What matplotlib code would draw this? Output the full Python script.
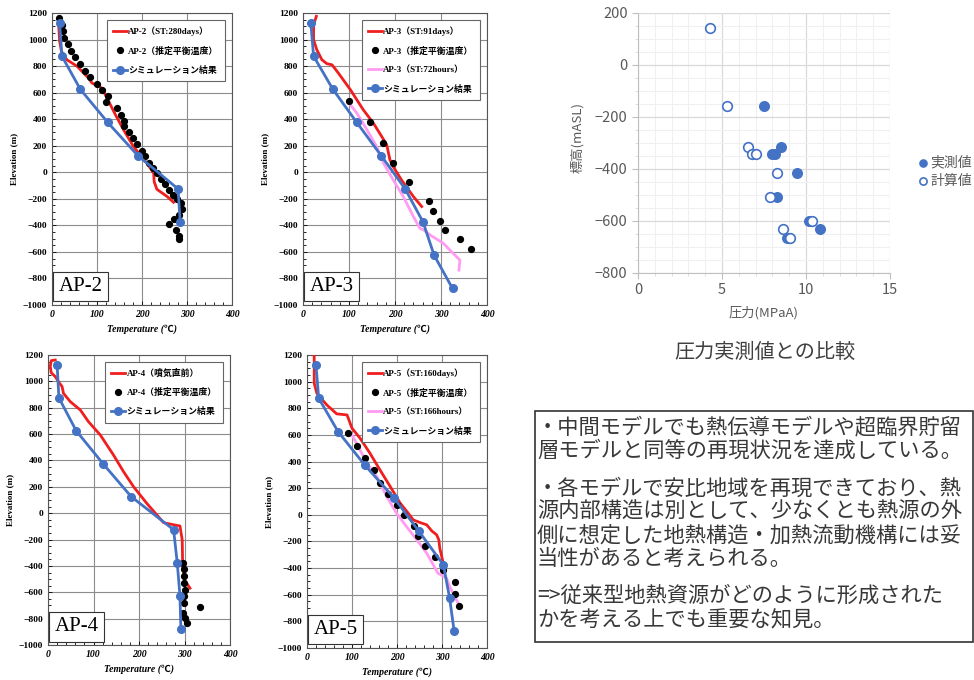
import numpy as np
import matplotlib.pyplot as plt
from matplotlib.ticker import MultipleLocator, AutoMinorLocator
from matplotlib.patches import Rectangle

SERIF = ['Liberation Serif', 'Noto Sans CJK JP']
JP = ['Noto Sans CJK JP', 'DejaVu Sans']

RED = '#F01E1E'
BLUE = '#4472C4'
PINK = '#FF9CF2'

# simulation result elevations (same for every well)
sim_elev = [1125, 875, 625, 375, 125, -125, -375, -625, -875]

# AP-2
ap2_st_t = [15, 17, 21, 33, 56, 81, 89, 111, 126, 141, 159, 181, 211, 226, 227, 233, 256, 270]
ap2_st_z = [1100, 986, 911, 848, 798, 710, 672, 634, 534, 433, 320, 194, 68, -7, -70, -128, -183, -226]
ap2_eq_t = [16, 22, 24, 27, 36, 42, 52, 63, 74, 84, 100, 110, 124, 121, 144, 153, 161, 161, 170,
            180, 189, 199, 207, 215, 224, 233, 243, 251, 260, 268, 278, 286, 289, 283, 272, 261,
            275, 283, 283]
ap2_eq_z = [1162, 1112, 1062, 1011, 966, 916, 866, 815, 765, 715, 664, 622, 576, 526, 483, 433,
            390, 345, 300, 257, 212, 164, 119, 73, 31, -7, -50, -90, -133, -170, -203, -233,
            -276, -321, -354, -392, -434, -479, -502]
ap2_sim_t = [17, 22, 63, 124, 191, 280, 285]

# AP-3
ap3_st_t = [29, 23, 23, 30, 41, 52, 63, 77, 103, 131, 153, 171, 182, 189, 196, 214, 240, 258]
ap3_st_z = [1175, 1112, 999, 923, 848, 818, 810, 747, 622, 471, 370, 270, 207, 94, 43, -57, -183, -258]
ap3_eq_t = [101, 146, 173, 196, 231, 274, 283, 298, 308, 341, 366]
ap3_eq_z = [539, 375, 224, 73, -70, -213, -289, -364, -435, -505, -580]
ap3_72h_t = [103, 117, 139, 160, 175, 196, 218, 240, 254, 262, 276, 305, 326, 341, 339]
ap3_72h_z = [508, 446, 320, 194, 69, -57, -183, -334, -422, -434, -472, -535, -610, -661, -737]
ap3_sim_t = [17, 23, 65, 117, 170, 222, 261, 285, 325]

# AP-4
ap4_st_t = [16, 7, 5, 7, 16, 23, 31, 34, 49, 71, 89, 115, 144, 166, 188, 217, 254, 279, 290,
            295, 296, 300, 312]
ap4_st_z = [1162, 1157, 1112, 1066, 1036, 998, 960, 909, 846, 783, 694, 593, 441, 315, 201, 75,
            -72, -90, -97, -203, -405, -506, -569]
ap4_eq_t = [296, 298, 298, 299, 300, 299, 299, 334, 296, 301, 305]
ap4_eq_z = [-375, -426, -476, -532, -582, -627, -678, -714, -754, -792, -835]
ap4_sim_t = [20, 24, 62, 121, 183, 276, 284, 290, 292]

# AP-5
ap5_st_t = [16, 16, 22, 44, 66, 89, 100, 118, 140, 162, 185, 207, 225, 236, 251, 266, 277, 288,
            293, 295, 299, 301]
ap5_st_z = [1200, 988, 912, 825, 758, 750, 650, 575, 462, 338, 212, 88, 12, -38, -58, -75, -120,
            -150, -188, -250, -308, -338]
ap5_eq_t = [91, 111, 128, 148, 163, 181, 199, 216, 237, 246, 263, 284, 303, 328, 328, 337]
ap5_eq_z = [612, 518, 425, 338, 242, 158, 75, 0, -83, -158, -232, -318, -412, -508, -595, -688]
ap5_166h_t = [100, 114, 133, 155, 177, 199, 221, 244, 266, 291, 310, 317, 332, 339]
ap5_166h_z = [600, 512, 388, 288, 138, 12, -88, -188, -288, -438, -475, -538, -638, -683]
ap5_sim_t = [20, 26, 69, 128, 194, 249, 303, 317, 327]

# pressure comparison
meas_p = [7.49, 8.54, 7.95, 8.15, 9.44, 8.25, 10.15, 10.83, 8.88]
meas_z = [-156, -317, -341, -341, -414, -508, -601, -630, -665]
calc_p = [4.31, 5.27, 6.54, 6.80, 7.05, 8.25, 7.85, 10.37, 8.64, 9.04]
calc_z = [142, -156, -317, -341, -341, -414, -508, -601, -630, -665]

note_lines = [
    "・中間モデルでも熱伝導モデルや超臨界貯留",
    "層モデルと同等の再現状況を達成している。",
    "・各モデルで安比地域を再現できており、熱",
    "源内部構造は別として、少なくとも熱源の外",
    "側に想定した地熱構造・加熱流動機構には妥",
    "当性があると考えられる。",
    "=>従来型地熱資源がどのように形成された",
    "かを考える上でも重要な知見。",
]
note_y = [427, 451, 489, 512, 536, 559, 596, 620]

W, H = 974, 680
fig = plt.figure(figsize=(W / 100, H / 100), dpi=100)


def px_axes(l, t, r, b):
    return fig.add_axes([l / W, 1 - b / H, (r - l) / W, (b - t) / H])


def well_panel(box, name, st, st_label, eq, sim_t, extra=None):
    ax = px_axes(*box)
    ax.plot(st[0], st[1], color=RED, lw=2, label=st_label, zorder=3)
    ax.plot(eq[0], eq[1], 'o', color='black', ms=4.2, label=name + '（推定平衡温度）', zorder=4)
    if extra is not None:
        ax.plot(extra[0], extra[1], color=PINK, lw=2, label=extra[2], zorder=2)
    ax.plot(sim_t, sim_elev[:len(sim_t)], '-o', color=BLUE, lw=2, ms=5.5,
            label='シミュレーション結果', zorder=5)

    ax.set_xlim(0, 400)
    ax.set_ylim(-1000, 1200)
    ax.xaxis.set_major_locator(MultipleLocator(100))
    ax.yaxis.set_major_locator(MultipleLocator(200))
    ax.xaxis.set_minor_locator(AutoMinorLocator(5))
    ax.yaxis.set_minor_locator(AutoMinorLocator(4))
    ax.tick_params(which='both', direction='in', length=3, width=0.6)
    ax.tick_params(which='minor', length=2)
    ax.grid(True, which='major', color='#8c8c8c', lw=0.8)
    for s in ax.spines.values():
        s.set_color('#555555')
        s.set_linewidth(0.8)
    for lab in ax.get_yticklabels():
        lab.set_fontfamily(SERIF)
        lab.set_fontweight('bold')
        lab.set_fontsize(6.8)
    for lab in ax.get_xticklabels():
        lab.set_fontfamily(SERIF)
        lab.set_fontweight('bold')
        lab.set_fontstyle('italic')
        lab.set_fontsize(7)
    ax.set_ylabel('Elevation (m)', family=SERIF, fontweight='bold', fontsize=6.5, labelpad=3)
    ax.set_xlabel('Temperature (℃)', family=SERIF, fontweight='bold', fontstyle='italic',
                  fontsize=7, labelpad=4)
    leg = ax.legend(loc='upper right', bbox_to_anchor=(0.985, 0.99), fancybox=False,
                    prop={'family': SERIF, 'size': 6.4, 'weight': 'bold'}, handlelength=1.6,
                    borderpad=0.7, labelspacing=1.15, handletextpad=0.15, framealpha=1)
    leg.get_frame().set_edgecolor('#666666')
    leg.get_frame().set_linewidth(0.8)
    ax.text(0.035, 0.03, name, transform=ax.transAxes, family=SERIF, fontsize=15,
            ha='left', va='bottom', zorder=6,
            bbox=dict(boxstyle='square,pad=0.25', fc='white', ec='#333333', lw=0.8))
    return ax


well_panel((52, 13, 232, 305), 'AP-2', (ap2_st_t, ap2_st_z), 'AP-2（ST:280days）',
           (ap2_eq_t, ap2_eq_z), ap2_sim_t)
well_panel((303, 13, 487, 305), 'AP-3', (ap3_st_t, ap3_st_z), 'AP-3（ST:91days）',
           (ap3_eq_t, ap3_eq_z), ap3_sim_t, (ap3_72h_t, ap3_72h_z, 'AP-3（ST:72hours）'))
well_panel((48, 355, 230, 645), 'AP-4', (ap4_st_t, ap4_st_z), 'AP-4（噴気直前）',
           (ap4_eq_t, ap4_eq_z), ap4_sim_t)
well_panel((307, 355, 487, 648), 'AP-5', (ap5_st_t, ap5_st_z), 'AP-5（ST:160days）',
           (ap5_eq_t, ap5_eq_z), ap5_sim_t, (ap5_166h_t, ap5_166h_z, 'AP-5（ST:166hours）'))

# pressure chart
axp = px_axes(638, 13, 890, 273)
axp.scatter(meas_p, meas_z, s=48, color=BLUE, edgecolor=BLUE, label='実測値', zorder=3)
axp.scatter(calc_p, calc_z, s=48, facecolor='white', edgecolor=BLUE, linewidth=1.2,
            label='計算値', zorder=4)
axp.set_xlim(0, 15)
axp.set_ylim(-800, 200)
axp.xaxis.set_major_locator(MultipleLocator(5))
axp.yaxis.set_major_locator(MultipleLocator(200))
axp.xaxis.set_minor_locator(MultipleLocator(1))
axp.yaxis.set_minor_locator(MultipleLocator(50))
axp.grid(True, which='major', color='#d9d9d9', lw=0.9)
axp.grid(True, which='minor', color='#f0f0f0', lw=0.8)
axp.set_axisbelow(True)
for k in ('top', 'right'):
    axp.spines[k].set_visible(False)
for k in ('left', 'bottom'):
    axp.spines[k].set_color('#bfbfbf')
axp.tick_params(which='major', length=4, color='#bfbfbf', labelsize=10.5, labelcolor='#595959')
axp.tick_params(which='minor', length=2, color='#d9d9d9')
for lab in axp.get_xticklabels() + axp.get_yticklabels():
    lab.set_fontfamily(JP)
axp.set_xlabel('圧力(MPaA)', family=JP, fontsize=9.5, color='#595959', labelpad=6)
axp.set_ylabel('標高(mASL)', family=JP, fontsize=9.5, color='#595959', labelpad=7)
axp.yaxis.set_label_coords(-0.215, 0.52)
leg = axp.legend(loc='center left', bbox_to_anchor=(1.108, 0.39), frameon=False,
                 prop={'family': JP, 'size': 10}, handlelength=0.8, handletextpad=0.15,
                 labelspacing=0.35, borderpad=0, borderaxespad=0, markerscale=0.75)
for t in leg.get_texts():
    t.set_color('#595959')
fig.text(765 / W, 1 - 352 / H, '圧力実測値との比較', family=JP, fontsize=14.5,
         color='#404040', ha='center', va='center')

# note box
fig.patches.append(Rectangle((535 / W, 1 - 642 / H), 438 / W, 231 / H,
                             transform=fig.transFigure, fill=False, ec='#333333', lw=1.2))
for line, y in zip(note_lines, note_y):
    fig.text(537 / W, 1 - y / H, line, family=JP, fontsize=15.3, color='#383838',
             ha='left', va='center')

fig.savefig('out.png', dpi=100)
